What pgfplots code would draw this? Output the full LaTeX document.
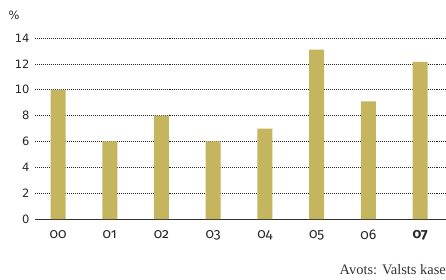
\documentclass[border=0pt]{standalone}
\usepackage{fontspec}
\setmainfont{DejaVu Sans}
\newfontfamily\xfont[Numbers=OldStyle]{Fira Sans}
\newfontfamily\srcfont{Liberation Serif}
\usepackage{pgfplots}
\pgfplotsset{compat=1.18}
\definecolor{barcol}{RGB}{196,181,94}
\begin{document}
\begin{tikzpicture}
\useasboundingbox (-35bp,-61bp) rectangle (411bp,219bp);
\begin{axis}[
  at={(0,0)}, anchor=south west,
  scale only axis, width=411bp, height=181bp,
  xmin=-0.445, xmax=7.5, ymin=0, ymax=14,
  ytick={0,2,...,14},
  xtick=data,
  xticklabels={00,01,02,03,04,05,06,\textbf{07}},
  major tick length=0pt,
  axis line style={draw=none},
  ymajorgrids, grid style={black!85, dash pattern=on 0.7pt off 1.3pt, line width=0.7pt},
  /pgf/number format/assume math mode=true,
  yticklabel style={font=\fontsize{11.5}{12}\selectfont, text=black!85, xshift=-2bp},
  xticklabel style={font=\xfont\fontsize{14}{14}\selectfont, text=black!85, yshift=-8bp},
  extra y ticks={0}, extra y tick labels={},
  extra y tick style={grid style={solid, black!80, line width=1pt}},
  clip=false,
]
\addplot[ybar, bar width=15bp, fill=barcol, draw=none] coordinates {
(0,10) (1,6) (2,8) (3,6) (4,7) (5,13.1) (6,9.1) (7,12.15)};
\end{axis}
\node[font=\fontsize{11.5}{12}\selectfont, text=black!85] at (-21bp,204bp) {\%};
\node[anchor=east, inner sep=0pt, font=\srcfont\fontsize{14.5}{14}\selectfont, text=black!80] at (411bp,-51bp) {Avots: Valsts kase};
\end{tikzpicture}
\end{document}
